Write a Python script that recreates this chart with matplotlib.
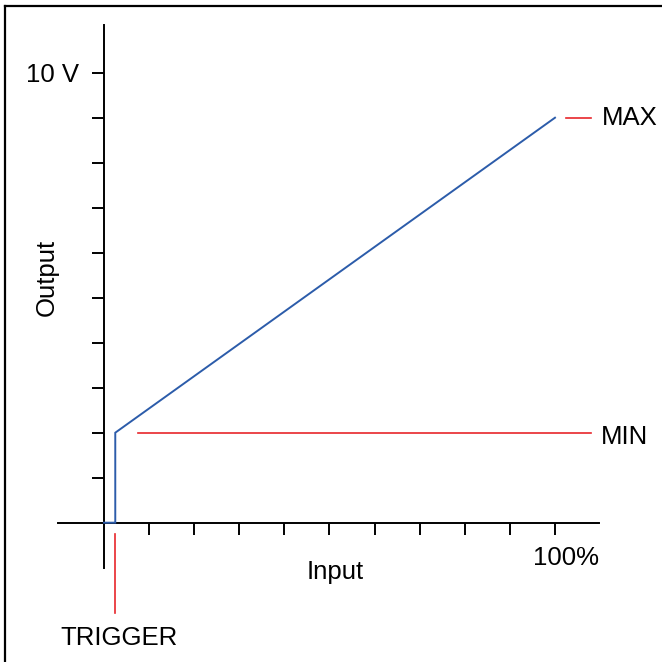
import matplotlib
matplotlib.use("Agg")
import matplotlib.pyplot as plt
from matplotlib.lines import Line2D

plt.rcParams['font.family'] = ['Liberation Sans', 'DejaVu Sans']

# response curve: input (%) -> output (V)
input_pct = [0, 2.5, 2.5, 100]
output_v = [0, 0, 2, 9]

trigger_pct = 2.5
trigger_span = (-0.25, -2.0)
min_v = 2
min_span = (7.5, 108)
max_v = 9
max_span = (102.5, 108)

x_ticks = [10, 20, 30, 40, 50, 60, 70, 80, 90, 100]
y_ticks = [1, 2, 3, 4, 5, 6, 7, 8, 9, 10]

blue = "#2c5caa"
red = "#e8262b"
fs = 18.5

fig = plt.figure(figsize=(6.62, 6.62), dpi=100)
ax = fig.add_axes([0, 0, 1, 1])
ax.set_xlim(-23.06, 123.73)
ax.set_ylim(-3.096, 11.616)

#axis lines
ax.spines['left'].set_position(('data', 0))
ax.spines['bottom'].set_position(('data', 0))
ax.spines['left'].set_bounds(-1.0, 11.06)
ax.spines['bottom'].set_bounds(-10.2, 109.8)
for s in ['left', 'bottom']:
    ax.spines[s].set_linewidth(1.4)
for s in ['right', 'top']:
    ax.spines[s].set_visible(False)
ax.set_xticks(x_ticks)
ax.set_yticks(y_ticks)
ax.set_xticklabels([])
ax.set_yticklabels([])
ax.tick_params(direction='out', length=8.6, width=1.4, color='black')

#curve and markers
ax.plot(input_pct, output_v, color=blue, lw=1.4, solid_joinstyle='miter', zorder=4)
ax.plot(min_span, [min_v, min_v], color=red, lw=1.2, zorder=4)
ax.plot(max_span, [max_v, max_v], color=red, lw=1.2, zorder=4)
ax.plot([trigger_pct, trigger_pct], trigger_span, color=red, lw=1.2, zorder=4)

#labels
ax.text(-5.54, 9.79, "10 V", ha='right', va='baseline', fontsize=fs)
ax.text(95.1, -0.94, "100%", ha='left', va='baseline', fontsize=fs)
ax.text(51.3, -1.25, "Input", ha='center', va='baseline', fontsize=fs)
ax.text(-12.6, 5.44, "Output", ha='center', va='center', rotation=90, fontsize=fs)
ax.text(110.4, 8.84, "MAX", ha='left', va='baseline', fontsize=fs)
ax.text(110.2, 1.75, "MIN", ha='left', va='baseline', fontsize=fs)
ax.text(3.3, -2.72, "TRIGGER", ha='center', va='baseline', fontsize=fs)

#frame (left and top edges only visible)
fig.add_artist(Line2D([5/662, 5/662], [0, 1 - 6/662], transform=fig.transFigure, color='black', lw=1.6))
fig.add_artist(Line2D([5/662, 1], [1 - 6/662, 1 - 6/662], transform=fig.transFigure, color='black', lw=1.6))

fig.savefig("out.png", dpi=100, facecolor='white')
